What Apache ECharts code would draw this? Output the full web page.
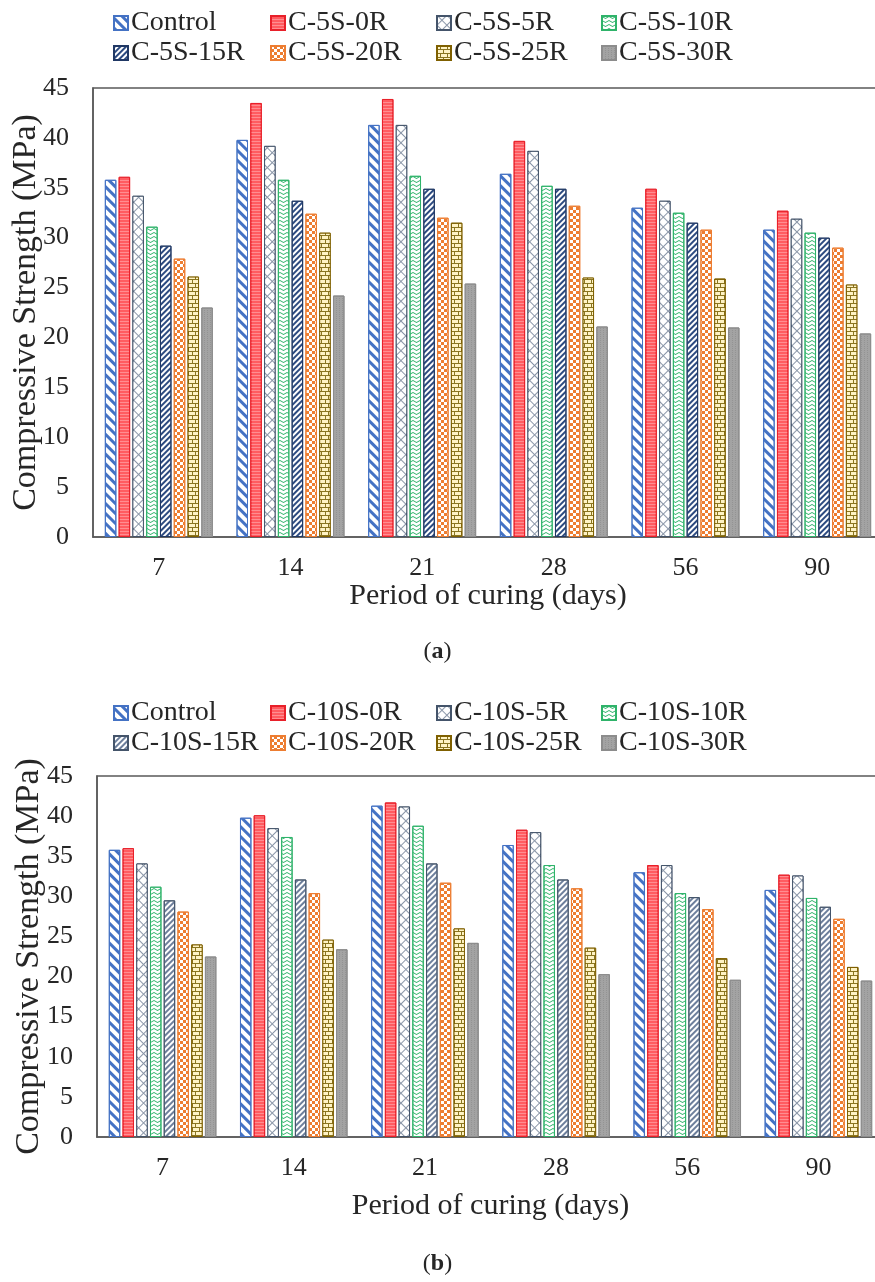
<!DOCTYPE html>
<html>
<head>
<meta charset="utf-8">
<script src="https://cdn.jsdelivr.net/npm/echarts@6/dist/echarts.min.js"></script>
<style>
html,body{margin:0;padding:0;background:#fff;overflow:hidden;}
#chart{width:875px;height:1282px;}
</style>
</head>
<body>
<div id="chart"></div>
<script>
// ---------- DATA ----------
const categories = ['7', '14', '21', '28', '56', '90'];
const yTicks = [0, 5, 10, 15, 20, 25, 30, 35, 40, 45];

const namesA = ['Control', 'C-5S-0R', 'C-5S-5R', 'C-5S-10R', 'C-5S-15R', 'C-5S-20R', 'C-5S-25R', 'C-5S-30R'];
const namesB = ['Control', 'C-10S-0R', 'C-10S-5R', 'C-10S-10R', 'C-10S-15R', 'C-10S-20R', 'C-10S-25R', 'C-10S-30R'];

const controlVals = [35.8, 39.8, 41.3, 36.4, 33.0, 30.8];

const a_0R  = [36.1, 43.5, 43.9, 39.7, 34.9, 32.7];
const a_5R  = [34.2, 39.2, 41.3, 38.7, 33.7, 31.9];
const a_10R = [31.1, 35.8, 36.2, 35.2, 32.5, 30.5];
const a_15R = [29.2, 33.7, 34.9, 34.9, 31.5, 30.0];
const a_20R = [27.9, 32.4, 32.0, 33.2, 30.8, 29.0];
const a_25R = [26.1, 30.5, 31.5, 26.0, 25.9, 25.3];
const a_30R = [23.0, 24.2, 25.4, 21.1, 21.0, 20.4];

const b_0R  = [36.0, 40.1, 41.7, 38.3, 33.9, 32.7];
const b_5R  = [34.1, 38.5, 41.2, 38.0, 33.9, 32.6];
const b_10R = [31.2, 37.4, 38.8, 33.9, 30.4, 29.8];
const b_15R = [29.5, 32.1, 34.1, 32.1, 29.9, 28.7];
const b_20R = [28.1, 30.4, 31.7, 31.0, 28.4, 27.2];
const b_25R = [24.0, 24.6, 26.0, 23.6, 22.3, 21.2];
const b_30R = [22.5, 23.4, 24.2, 20.3, 19.6, 19.5];

const valuesA = [controlVals, a_0R, a_5R, a_10R, a_15R, a_20R, a_25R, a_30R];
const valuesB = [controlVals, b_0R, b_5R, b_10R, b_15R, b_20R, b_25R, b_30R];

// ---------- STYLES ----------
const FONT = '"Liberation Serif", "Times New Roman", serif';
const TXT = '#262626';
const AXIS = '#595959';

function styles(variant) {
  return [
    { // Control: wide downward diagonal blue
      color: '#ffffff', borderColor: '#4472C4',
      decal: { symbol: 'rect', symbolSize: 1, color: '#4472C4', dashArrayX: [[1, 0]], dashArrayY: [2.2, 4], rotation: Math.PI / 4 }
    },
    { // 0R: red with fine horizontal lines
      color: '#ff5c61', borderColor: '#e8202a',
      decal: { symbol: 'rect', symbolSize: 1, color: 'rgba(255,255,255,0.3)', dashArrayX: [[1, 0]], dashArrayY: [1, 2], rotation: 0 }
    },
    { // 5R: diagonal cross hatch gray-blue, mostly white
      color: '#8a96a8', borderColor: '#44546A',
      decal: { symbol: 'rect', symbolSize: 1, color: '#ffffff', dashArrayX: [[6, 0.9]], dashArrayY: [6, 0.9], rotation: Math.PI / 4 }
    },
    { // 10R: green zigzag
      color: '#ffffff', borderColor: '#2fb36a',
      decal: { symbol: 'path://M0,0L5,3L10,0L10,1.6L5,4.6L0,1.6Z', symbolSize: 1, symbolKeepAspect: false, color: '#2fb36a', dashArrayX: [[7, 0]], dashArrayY: [3, 1], rotation: 0 }
    },
    { // 15R: narrow upward diagonal
      color: '#ffffff', borderColor: variant === 'b' ? '#44546A' : '#203864',
      decal: { symbol: 'rect', symbolSize: 1, color: variant === 'b' ? '#6d7f9c' : '#2c4a80', dashArrayX: [[1, 0]], dashArrayY: [1.1, 1.9], rotation: -Math.PI / 4 }
    },
    { // 20R: orange checkerboard
      color: '#ffffff', borderColor: '#ED7D31',
      decal: { symbol: 'rect', symbolSize: 1, color: '#ED7D31', dashArrayX: [[3, 3], [0, 3, 3, 0]], dashArrayY: [3, 0], rotation: 0 }
    },
    { // 25R: olive bricks on cream
      color: '#8a7520', borderColor: '#7f6000',
      decal: { symbol: 'rect', symbolSize: 1, color: '#fff3c4', dashArrayX: [[5.5, 0.9], [2.5, 0.9, 3, 0]], dashArrayY: [2.8, 0.9], rotation: 0 }
    },
    { // 30R: grey
      color: '#a3a3a3', borderColor: '#8c8c8c',
      decal: { symbol: 'rect', symbolSize: 1, color: '#939393', dashArrayX: [[1, 1.5]], dashArrayY: [1, 1], rotation: 0 }
    }
  ];
}

// ---------- LAYOUT ----------
const grids = [
  { left: 93, width: 790, top: 88, height: 449 },
  { left: 97, width: 787, top: 776, height: 361 }
];
const legendCols = [113, 270, 436, 601];
const legendRowsA = [8, 38];
const legendRowsB = [698, 728];

function buildLegends(names, rows) {
  return names.map((n, i) => ({
    data: [n],
    left: legendCols[i % 4],
    top: rows[Math.floor(i / 4)],
    padding: 0,
    itemWidth: 14,
    itemHeight: 14,
    itemGap: 0,
    icon: 'rect',
    selectedMode: false,
    textStyle: { fontFamily: FONT, fontSize: 28, color: TXT, lineHeight: 30, padding: [0, 0, 0, -2] }
  }));
}

function buildSeries(names, values, idx, variant) {
  const st = styles(variant);
  return names.map((n, i) => ({
    name: n,
    type: 'bar',
    xAxisIndex: idx,
    yAxisIndex: idx,
    data: values[i],
    barGap: '20%',
    barCategoryGap: '18%',
    itemStyle: Object.assign({ borderWidth: 1 }, st[i]),
    emphasis: { disabled: true },
    animation: false
  }));
}

function xAxis(idx, nameGap) {
  return {
    type: 'category', gridIndex: idx, data: categories,
    axisLine: { show: true, lineStyle: { color: AXIS, width: 1.5 } },
    axisTick: { show: false },
    axisLabel: { fontFamily: FONT, fontSize: 26, color: TXT, margin: 18 },
    name: 'Period of curing (days)', nameLocation: 'middle', nameGap: nameGap, nameMoveOverlap: false,
    nameTextStyle: { fontFamily: FONT, fontSize: 30, color: TXT }
  };
}
function yAxis(idx, nameGap) {
  return {
    type: 'value', gridIndex: idx, min: yTicks[0], max: yTicks[yTicks.length - 1], interval: 5,
    splitLine: { show: false },
    axisLine: { show: true, lineStyle: { color: AXIS, width: 1.5 } },
    axisTick: { show: false },
    axisLabel: { fontFamily: FONT, fontSize: 26, color: TXT, margin: 24 },
    name: 'Compressive Strength (MPa)', nameLocation: 'middle', nameGap: nameGap, nameRotate: 90, nameMoveOverlap: false,
    nameTextStyle: { fontFamily: FONT, fontSize: 34, color: TXT }
  };
}

const chart = echarts.init(document.getElementById('chart'), null, { renderer: 'canvas' });
chart.setOption({
  backgroundColor: '#ffffff',
  animation: false,
  title: [
    { text: '{p|(}{b|a}{p|)}', left: 'center', top: 640, padding: 0,
      textStyle: { rich: { p: { fontFamily: FONT, fontSize: 24, fontWeight: 'normal', color: TXT }, b: { fontFamily: FONT, fontSize: 24, fontWeight: 'bold', color: TXT } } } },
    { text: '{p|(}{b|b}{p|)}', left: 'center', top: 1252, padding: 0,
      textStyle: { rich: { p: { fontFamily: FONT, fontSize: 24, fontWeight: 'normal', color: TXT }, b: { fontFamily: FONT, fontSize: 24, fontWeight: 'bold', color: TXT } } } }
  ],
  legend: buildLegends(namesA, legendRowsA).concat(buildLegends(namesB, legendRowsB)),
  grid: grids.map(g => Object.assign({ show: true, borderColor: AXIS, borderWidth: 1.5, containLabel: false, outerBoundsMode: 'none' }, g)),
  xAxis: [xAxis(0, 44), xAxis(1, 54)],
  yAxis: [yAxis(0, 50), yAxis(1, 51)],
  series: buildSeries(namesA, valuesA, 0, 'a').concat(buildSeries(namesB, valuesB, 1, 'b'))
});
</script>
</body>
</html>
